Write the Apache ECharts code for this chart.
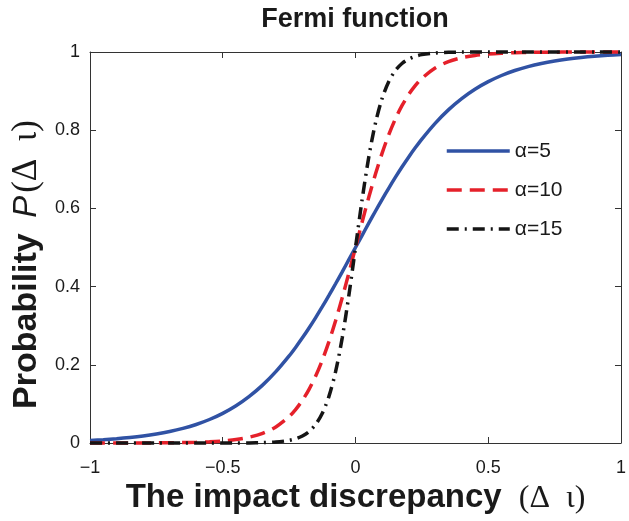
<!DOCTYPE html>
<html>
<head>
<meta charset="utf-8">
<script src="https://cdn.jsdelivr.net/npm/echarts@6/dist/echarts.min.js"></script>
<style>html,body{margin:0;padding:0;background:#fff;}#c{width:629px;height:521px;}</style>
</head>
<body>
<div id="c"></div>
<script>
var xValues = [-1,-0.95,-0.9,-0.85,-0.8,-0.75,-0.7,-0.65,-0.6,-0.55,-0.5,-0.45,-0.4,-0.35,-0.3,-0.25,-0.225,-0.2,-0.175,-0.15,-0.125,-0.1,-0.075,-0.05,-0.025,0,0.025,0.05,0.075,0.1,0.125,0.15,0.175,0.2,0.225,0.25,0.3,0.35,0.4,0.45,0.5,0.55,0.6,0.65,0.7,0.75,0.8,0.85,0.9,0.95,1];
var alpha5 = [0.0067,0.0086,0.0110,0.0141,0.0180,0.0230,0.0293,0.0373,0.0474,0.0601,0.0759,0.0953,0.1192,0.1480,0.1824,0.2227,0.2451,0.2689,0.2942,0.3208,0.3486,0.3775,0.4073,0.4378,0.4688,0.5,0.5312,0.5622,0.5927,0.6225,0.6514,0.6792,0.7058,0.7311,0.7549,0.7773,0.8176,0.8520,0.8808,0.9047,0.9241,0.9399,0.9526,0.9627,0.9707,0.9770,0.9820,0.9859,0.9890,0.9914,0.9933];
var alpha10 = [0.0000,0.0000,0.0001,0.0001,0.0002,0.0004,0.0006,0.0011,0.0018,0.0031,0.0052,0.0088,0.0148,0.0247,0.0411,0.0675,0.0861,0.1091,0.1373,0.1715,0.2120,0.2592,0.3127,0.3717,0.4347,0.5,0.5653,0.6283,0.6873,0.7408,0.7880,0.8285,0.8627,0.8909,0.9139,0.9325,0.9589,0.9753,0.9852,0.9912,0.9948,0.9969,0.9982,0.9989,0.9994,0.9996,0.9998,0.9999,0.9999,1.0000,1.0000];
var alpha15 = [0,0,0,0,0,0,0,0,0,0,0,0.0001,0.0003,0.0009,0.0025,0.0067,0.0110,0.0180,0.0293,0.0474,0.0759,0.1192,0.1824,0.2689,0.3775,0.5,0.6225,0.7311,0.8176,0.8808,0.9241,0.9526,0.9707,0.9820,0.9890,0.9933,0.9975,0.9991,0.9997,0.9999,1,1,1,1,1,1,1,1,1,1,1];
var seriesNames = ['\u03b1=5','\u03b1=10','\u03b1=15'];
var xTicks = [-1,-0.5,0,0.5,1];
var yTicks = [0,0.2,0.4,0.6,0.8,1];

function pairs(ys){ return xValues.map(function(x,i){ return [x, ys[i]]; }); }

var chart = echarts.init(document.getElementById('c'), null, {renderer:'canvas'});
var axisCol = '#333';
var sansFont = '"Liberation Sans", Arial, sans-serif';
var serifFont = '"Liberation Serif", "DejaVu Serif", serif';
var tickCommon = {show:true, inside:true, length:6, lineStyle:{color:axisCol, width:1}};
chart.setOption({
  animation:false,
  backgroundColor:'#fff',
  graphic:[{
    type:'text', x:355, y:20,
    style:{text:'Fermi function', font:'bold 27px '+sansFont, fill:'#1a1a1a', textAlign:'center', textVerticalAlign:'middle'}
  }],
  grid:{left:90, right:7, top:52, bottom:78},
  legend:{
    orient:'vertical', left:445, top:140, padding:0, itemWidth:63, itemHeight:14, itemGap:17,
    data:seriesNames,
    itemStyle:{opacity:0},
    lineStyle:{width:3.5},
    textStyle:{fontFamily:sansFont, fontSize:21, lineHeight:22, color:'#1a1a1a'}
  },
  xAxis:[{
    type:'value', min:-1, max:1, interval:0.5,
    axisLine:{show:true, onZero:false, lineStyle:{color:axisCol, width:1}},
    axisTick:tickCommon,
    splitLine:{show:false},
    axisLabel:{margin:16, fontFamily:sansFont, fontSize:18, color:'#1a1a1a',
      formatter:function(v){ return String(v).replace('-', '\u2212'); }},
    name:'{b|The impact discrepancy }{s|(\u0394  \u03b9)}',
    nameLocation:'middle', nameGap:36,
    nameTextStyle:{rich:{
      b:{fontFamily:sansFont, fontWeight:'bold', fontSize:33, color:'#1a1a1a'},
      s:{fontFamily:serifFont, fontSize:32, color:'#1a1a1a', padding:[0,0,0,8]}
    }}
  },{
    type:'value', min:-1, max:1, interval:0.5, position:'top',
    axisLine:{show:true, onZero:false, lineStyle:{color:axisCol, width:1}},
    axisTick:tickCommon, axisLabel:{show:false}, splitLine:{show:false}
  }],
  yAxis:[{
    type:'value', min:0, max:1, interval:0.2,
    axisLine:{show:true, onZero:false, lineStyle:{color:axisCol, width:1}},
    axisTick:tickCommon,
    splitLine:{show:false},
    axisLabel:{margin:10, fontFamily:sansFont, fontSize:18, color:'#1a1a1a',
      formatter:function(v){ return String(v); }},
    name:'{b|Probability }{i|P}{s|(\u0394  \u03b9)}',
    nameLocation:'middle', nameGap:44, nameRotate:90,
    nameTextStyle:{padding:[0,34,0,0], rich:{
      b:{fontFamily:sansFont, fontWeight:'bold', fontSize:34, color:'#1a1a1a'},
      i:{fontFamily:sansFont, fontStyle:'italic', fontSize:33, color:'#1a1a1a', padding:[0,3,0,6]},
      s:{fontFamily:serifFont, fontSize:35, color:'#1a1a1a'}
    }}
  },{
    type:'value', min:0, max:1, interval:0.2, position:'right',
    axisLine:{show:true, onZero:false, lineStyle:{color:axisCol, width:1}},
    axisTick:tickCommon, axisLabel:{show:false}, splitLine:{show:false}
  }],
  series:[{
    name:seriesNames[0], type:'line', data:pairs(alpha5), showSymbol:false, symbol:'none', smooth:0.3, clip:false,
    itemStyle:{color:'#3052a4'},
    lineStyle:{color:'#3052a4', width:3.5, type:'solid'}
  },{
    name:seriesNames[1], type:'line', data:pairs(alpha10), showSymbol:false, symbol:'none', smooth:0.3, clip:false,
    itemStyle:{color:'#e5202a'},
    lineStyle:{color:'#e5202a', width:3.5, type:[15,8]}
  },{
    name:seriesNames[2], type:'line', data:pairs(alpha15), showSymbol:false, symbol:'none', smooth:0.3, clip:false,
    itemStyle:{color:'#151515'},
    lineStyle:{color:'#151515', width:3.5, type:[12,6,2,6]}
  }]
});
</script>
</body>
</html>
